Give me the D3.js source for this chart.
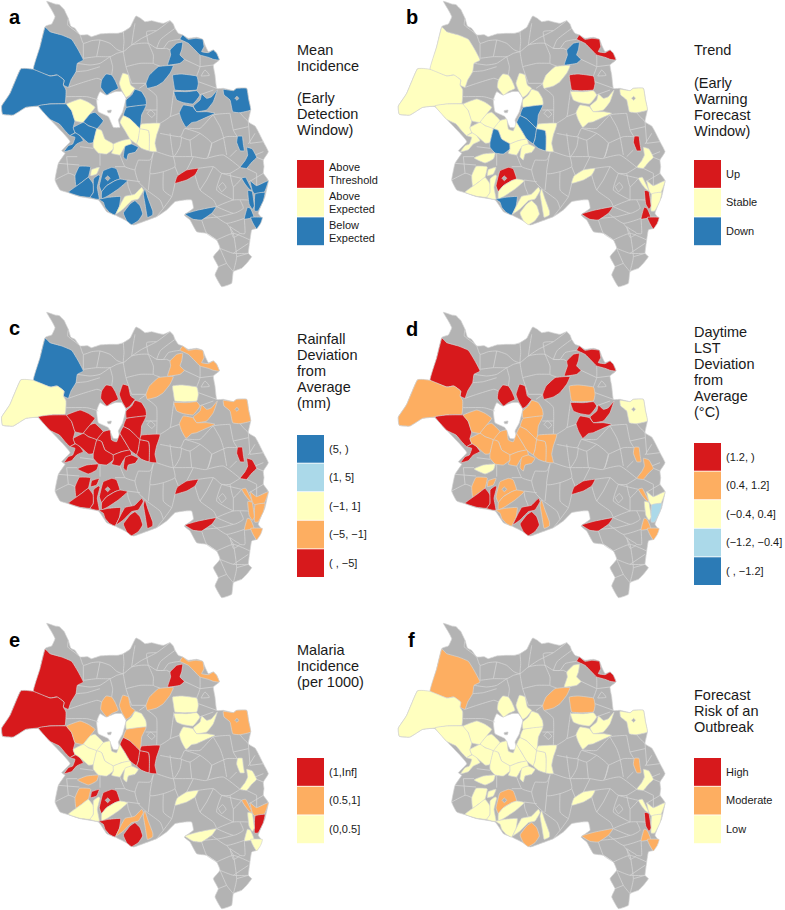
<!DOCTYPE html>
<html>
<head>
<meta charset="utf-8">
<script src="https://cdnjs.cloudflare.com/ajax/libs/d3/7.8.5/d3.min.js"></script>
<style>
  html, body { margin: 0; padding: 0; background: #fff; }
  text { font-family: "Liberation Sans", Arial, sans-serif; fill: #1a1a1a; }
  .region { stroke: #d4d4d4; stroke-width: 0.7; fill-rule: evenodd; stroke-linejoin: round; }
  .border { fill: none; stroke: #d4d4d4; stroke-width: 0.8; stroke-linejoin: round; }
</style>
</head>
<body>
<div id="chart"></div>
<script>
// Map geometry in map units (picture read at 3x), one outline, loose borders and the coloured districts
const outline = [[[140,4],[165,12],[178,14],[192,28],[205,55],[212,78],[225,85],[240,105],[262,104],[275,110],[300,102],[330,100],[352,100],[370,95],[390,82],[400,62],[408,48],[422,55],[435,65],[455,62],[470,66],[490,70],[510,62],[520,72],[525,85],[535,100],[548,105],[565,115],[590,112],[608,118],[615,135],[625,155],[640,150],[650,160],[658,180],[640,195],[645,225],[650,265],[670,265],[700,272],[710,265],[740,265],[746,298],[752,330],[745,365],[765,378],[775,395],[790,425],[805,455],[790,480],[792,500],[790,520],[805,542],[795,590],[785,612],[775,640],[785,655],[770,685],[755,690],[750,720],[745,760],[755,770],[740,790],[725,805],[700,815],[695,850],[665,860],[645,825],[655,800],[640,770],[660,745],[650,720],[620,700],[590,695],[570,660],[553,645],[580,625],[575,600],[555,600],[525,605],[500,630],[470,650],[430,665],[400,675],[375,660],[345,645],[320,635],[295,600],[240,590],[205,578],[180,570],[165,540],[175,490],[195,460],[185,452],[210,425],[190,400],[150,358],[115,320],[78,322],[40,345],[8,343],[5,318],[30,280],[62,207],[100,208],[120,140],[135,80],[155,72],[165,50],[155,30]],
  [[290,300],[300,275],[318,285],[345,275],[365,275],[378,295],[368,335],[355,360],[360,382],[340,382],[325,350],[295,335]],
  [[322,332],[334,330],[332,338],[324,338]]];

const borders = [
  [[205,55],[203,75],[222,90],[240,105],[250,130],[275,122],[300,120],[330,130],[350,148],[370,155],[395,135],[420,130],[445,130],[470,145],[500,145]],
  [[370,95],[372,125],[370,155],[378,200],[395,250]],
  [[250,175],[290,170],[330,170],[350,160],[370,155]],
  [[330,170],[338,200],[335,225]],
  [[232,190],[270,195],[300,190],[330,170]],
  [[395,135],[425,115],[470,92],[510,62]],
  [[405,70],[400,100],[395,135]],
  [[445,130],[460,165],[460,190],[480,198]],
  [[470,145],[482,118],[525,85]],
  [[205,262],[240,250],[290,235],[305,240]],
  [[228,215],[260,212],[300,200]],
  [[198,290],[260,290],[295,300]],
  [[440,250],[418,265]],
  [[442,265],[470,290],[470,370]],
  [[437,330],[470,330]],
  [[442,340],[452,330],[465,342],[455,352],[442,340]],
  [[522,270],[515,320],[510,350],[480,370]],
  [[538,340],[510,350]],
  [[480,400],[540,410],[555,385],[600,385],[640,345],[690,340]],
  [[470,455],[520,470],[540,440],[545,410]],
  [[520,470],[580,470],[620,475],[635,430],[600,400],[555,385]],
  [[690,340],[700,390],[712,410]],
  [[720,338],[730,350],[745,365]],
  [[635,430],[680,410],[712,410]],
  [[620,475],[670,465],[720,502]],
  [[595,505],[640,500],[665,520],[725,535]],
  [[585,525],[600,570],[640,600],[650,620]],
  [[525,550],[515,590],[490,625],[470,650]],
  [[460,458],[450,520],[490,515],[525,500],[520,470]],
  [[415,480],[405,510],[415,545],[440,570],[480,600],[490,625]],
  [[450,520],[445,570]],
  [[360,465],[375,500],[405,510]],
  [[300,460],[300,497]],
  [[240,440],[280,445]],
  [[200,470],[232,470]],
  [[175,490],[238,495]],
  [[345,500],[375,500]],
  [[382,540],[420,545]],
  [[610,655],[650,620],[700,600],[745,600]],
  [[605,660],[620,700],[650,720]],
  [[635,640],[680,670],[733,655]],
  [[650,720],[700,700],[750,720]],
  [[660,745],[700,760],[745,760]],
  [[700,815],[710,770],[700,700],[680,670]],
  [[665,520],[650,570],[700,600]],
  [[745,365],[750,430]],
  [[765,465],[790,455]],
  [[765,400],[745,432]],
  [[790,520],[748,545]],
  [[600,165],[600,200],[590,228]],
  [[640,195],[600,200]],
  [[603,228],[615,210],[628,226],[603,228]],
  [[553,178],[600,200]],
  [[595,245],[650,265]],
  [[598,285],[640,270]],
  [[518,195],[553,178]],
  [[655,560],[668,548],[678,562],[665,575],[655,560]],
  [[690,680],[705,690],[720,700],[700,712],[690,680]],
  [[445,130],[440,95],[470,92]],
  [[470,145],[490,145],[505,125],[525,120],[540,118]],
  [[500,145],[510,150]],
  [[378,200],[420,190],[460,190]],
  [[395,250],[440,250]],
  [[300,120],[290,170]],
  [[250,130],[250,175]],
  [[510,400],[515,440],[520,470]],
  [[570,420],[575,470]],
  [[600,400],[570,420],[540,410]],
  [[635,430],[625,470]],
  [[490,515],[490,570],[515,590]],
  [[525,500],[535,525]],
  [[560,510],[580,470]],
  [[640,345],[660,380],[670,410],[680,465]],
  [[700,390],[745,380]],
  [[710,450],[690,470]],
  [[620,540],[640,500]],
  [[620,540],[600,570]],
  [[665,520],[690,520],[720,502]],
  [[690,520],[700,560],[725,535]],
  [[700,560],[700,600]],
  [[720,600],[730,625],[700,640],[650,620]],
  [[610,655],[660,650],[700,640]],
  [[733,656],[735,700],[720,700]],
  [[165,540],[205,520],[225,527]],
  [[205,520],[200,470]],
  [[395,585],[385,560],[382,540]],
  [[415,480],[450,480],[460,458]],
  [[790,480],[770,472]],
  [[770,520],[740,505]],
  [[770,520],[770,557]],
  [[750,430],[790,425]],
  [[700,760],[745,730]],
  [[660,745],[680,790],[700,815]],
  [[655,800],[680,790]],
  [[710,770],[745,760]]
];

const districtIds = ["W1","W2","W3","W4","W5","W6","W7","M1","N1","N2","N3","N4","Y5","Y6","Y7","Y8","Y9","B10","T1","S1","S1b","S2","S3","S4","S5","S6","S7","S8","S9","C1","C2","E1","E2","E3","E4","E5","E6","E7","E8","F1","F2","F3","F4","F5","F6","F7","F8"];

const districtRings = [
  [[[135,82],[150,95],[185,105],[215,118],[235,150],[250,180],[232,190],[228,215],[213,240],[205,262],[190,255],[192,240],[170,225],[150,228],[100,208],[120,140]]],
  [[[62,207],[100,208],[150,228],[172,225],[192,240],[190,255],[198,270],[195,310],[150,312],[115,318],[78,322],[40,345],[8,343],[5,318],[30,280]]],
  [[[115,318],[150,312],[200,312],[215,332],[225,362],[220,382],[225,397],[210,407],[195,392],[178,372],[150,358]]],
  [[[192,455],[205,437],[218,432],[225,412],[210,407],[230,397],[240,407],[250,422],[230,432],[215,449]]],
  [[[200,312],[240,297],[265,307],[285,322],[270,342],[250,367],[225,362],[215,332]]],
  [[[270,342],[285,337],[310,362],[290,387],[265,377],[250,367]]],
  [[[220,382],[250,367],[265,377],[290,387],[280,427],[265,429],[240,407],[225,397]]],
  [[[310,362],[330,357],[335,387],[350,392],[360,367],[375,392],[390,417],[365,422],[340,432],[315,417],[305,392],[290,387]]],
  [[[318,222],[335,225],[345,240],[355,265],[335,275],[320,285],[302,262],[305,240]]],
  [[[368,220],[385,225],[392,255],[405,265],[390,285],[378,292],[365,270],[358,250]]],
  [[[380,322],[378,300],[395,285],[405,268],[425,275],[437,295],[438,315]]],
  [[[370,347],[380,322],[438,315],[425,345],[420,387],[390,357]]],
  [[[360,367],[370,347],[390,357],[420,387],[415,417],[410,432],[390,417],[375,392]]],
  [[[425,372],[480,370],[470,405],[465,430],[470,455],[447,452],[448,410],[445,392],[420,387]]],
  [[[420,387],[445,392],[448,410],[447,452],[425,445],[410,432],[415,417]]],
  [[[290,387],[305,392],[315,417],[340,432],[340,447],[320,462],[295,459],[280,442],[280,427]]],
  [[[340,432],[365,422],[390,417],[395,432],[372,445],[360,465],[335,460],[340,447]]],
  [[[375,439],[395,432],[415,442],[405,457],[385,462],[380,480],[370,470]]],
  [[[232,474],[260,462],[295,459],[290,477],[265,489]]],
  [[[238,499],[265,499],[272,502],[265,532],[245,547],[228,559],[225,527]]],
  [[[275,509],[298,502],[290,522],[272,527]]],
  [[[205,577],[228,559],[245,547],[265,532],[280,552],[280,577],[270,592],[240,589]]],
  [[[280,537],[295,525],[300,529],[292,562],[298,597],[285,597],[270,592],[280,577]]],
  [[[310,512],[335,502],[350,507],[360,537],[345,542],[320,557],[305,575],[298,557],[305,527]],[[316,535],[323,528],[330,535],[323,542]]],
  [[[360,537],[383,542],[355,567],[325,587],[305,597],[305,575],[320,557],[345,542]]],
  [[[297,598],[325,592],[345,590],[362,590],[358,620],[345,645],[328,637],[315,622],[310,607]]],
  [[[348,642],[362,612],[375,589],[395,585],[405,582],[425,562],[430,572],[415,597],[395,602],[370,627]]],
  [[[370,639],[390,612],[405,602],[420,617],[428,642],[415,662],[395,674],[380,662]]],
  [[[430,582],[435,567],[445,597],[458,632],[458,645],[442,652],[435,612]]],
  [[[525,550],[532,528],[560,510],[595,505],[585,525],[560,540]]],
  [[[555,642],[595,630],[648,620],[635,640],[605,660],[580,658]]],
  [[[530,130],[548,127],[545,150],[540,165],[553,178],[540,190],[503,195],[512,165],[510,150]]],
  [[[540,118],[548,105],[565,118],[585,115],[608,118],[612,140],[605,155],[625,158],[640,150],[650,160],[658,180],[640,178],[625,172],[600,165],[585,150],[565,130]]],
  [[[438,250],[448,225],[475,200],[500,197],[520,197],[510,220],[490,245],[470,258],[442,265]]],
  [[[518,225],[545,222],[590,228],[595,250],[590,270],[555,272],[525,270],[520,245]]],
  [[[522,275],[560,275],[590,272],[600,285],[590,300],[578,312],[550,308],[530,300]]],
  [[[605,282],[620,295],[635,290],[652,270],[640,305],[620,330],[590,335],[580,318],[600,300]]],
  [[[550,315],[578,320],[590,335],[620,335],[645,340],[612,355],[590,365],[575,368],[558,382],[545,360],[538,338]]],
  [[[670,268],[700,272],[710,265],[740,265],[746,298],[752,330],[720,338],[698,335],[690,300],[672,285]],[[705,295],[711,289],[716,295],[711,301]]],
  [[[713,409],[727,409],[730,432],[733,452],[720,452],[710,427]]],
  [[[740,442],[757,447],[770,472],[755,487],[740,505],[720,502],[735,482],[743,465]]],
  [[[725,535],[737,532],[750,557],[757,572],[747,567],[735,552]]],
  [[[750,542],[770,557],[805,542],[793,577],[765,582],[757,572]]],
  [[[765,582],[795,577],[790,602],[775,632],[763,632]]],
  [[[743,572],[757,575],[763,617],[757,628],[747,612]]],
  [[[742,622],[752,626],[762,652],[733,657]]],
  [[[752,652],[787,652],[782,670],[770,687],[760,672]]]
];

// Class of each district in each panel, same order as districtIds, null stays grey
const meanIncidence = ["B","B","B","B","Y","B","B",null,"B","Y","B","B","Y","Y","Y","Y","Y","B",null,"B","Y","B","B","B","B","B","Y","B","B","R","B","B","B","B","B","B","B","B","B","B","B","B","B","B","B","B","B"];
const trend = ["Y","Y","Y","Y","Y","Y","Y","Y","Y","Y","Y","B","B","Y","B","B","Y","Y","Y","Y","Y","Y","Y","R","Y","B","Y","Y","Y","Y","R","B","R","Y","R","Y","Y","Y","Y","R","Y","Y","Y","Y","R","R","R"];
const rainfall = ["B","Y","R","R","R","R","R","R","R","R","R","R","R","R","R","R","R","R","R","R","R","R","R","R","R","R","R","R","R","R","R","O","O","O","Y","O","O","O","O","R","R","O","O","O","O","O","O"];
const daytimeLst = ["R","O","R","R","O","O","O","O","R","R","O","O","O","O","O","O","O","O","Y","O","O","R","R","O","O","O","R","R","O","R","R","R","R","R","O","R","R","R","Y","O","O","O","Y","L","Y","O","O"];
const malaria = ["R","R","R","R","O","Y","Y","Y","O","O","Y","O","R","R","R","Y","Y","Y","O","O","R","Y","Y","R","Y","R","O","R","O","Y","Y","R","O","O","Y","Y","Y","Y","O","Y","Y","O","O","R","Y","Y","Y"];
const forecastRisk = ["O","Y","Y","Y","Y","Y","Y","Y","Y","Y","Y","Y","Y","Y","Y","Y","Y","Y","Y","Y","Y","Y","Y","O","Y","Y","Y","O","Y","Y","O","Y","R","O","O","Y","Y","Y","Y","O","Y","Y","Y","Y","R","O","O"];

// Legend text
const incidenceLabels = [["Above","Threshold"],["Above","Expected"],["Below","Expected"]];
const trendLabels = [["Up"],["Stable"],["Down"]];
const rainfallLabels = [["(5, )"],["(1, 5]"],["(−1, 1]"],["(−5, −1]"],["( , −5]"]];
const lstLabels = [["(1.2, )"],["(0.4, 1.2]"],["(−0.4, 0.4]"],["(−1.2, −0.4]"],["( , −1.2]"]];
const malariaLabels = [["(1,Inf]"],["(0.5,1]"],["(0,0.5]"]];
const riskLabels = [["High"],["Moderate"],["Low"]];

const classKeys = ["R","O","Y","L","B"];
const classColors = ["#d7191c","#fdae61","#ffffbf","#abd9e9","#2c7bb6"];
const color = d3.scaleOrdinal().domain(classKeys).range(classColors);
const greyFill = "#b3b3b3";

const width = 785, height = 910;
const svg = d3.select("#chart").append("svg")
    .attr("width", width)
    .attr("height", height)
    .style("display", "block");

// map units to pixels, the picture was read at 3x
const mapX = d3.scaleLinear().domain([0, 870]).range([0, 290]);
const mapY = d3.scaleLinear().domain([0, 900]).range([0, 300]);

// tight cardinal keeps the corners of the districts
const closedLine = d3.line().x(d => mapX(d[0])).y(d => mapY(d[1])).curve(d3.curveCardinalClosed.tension(0.65));
const openLine = d3.line().x(d => mapX(d[0])).y(d => mapY(d[1])).curve(d3.curveCardinal.tension(0.5));

function ringsPath(rings) {
    return rings.map(r => closedLine(r)).join(" ");
}

const districts = districtIds.map((id, i) => ({ id: id, index: i, rings: districtRings[i] }));

const panels = [
    { letter: "a", x: 9, y: 24, dx: 0, dy: 0, values: meanIncidence, legendX: 297, swatchTop: 160,
      title: [["Mean",55],["Incidence",71],["(Early",103],["Detection",119],["Window)",135]],
      keys: ["R","Y","B"], labels: incidenceLabels },
    { letter: "b", x: 406, y: 24, dx: 396.7, dy: 0, values: trend, legendX: 694, swatchTop: 160,
      title: [["Trend",55],["(Early",88],["Warning",104],["Forecast",120],["Window)",136]],
      keys: ["R","Y","B"], labels: trendLabels },
    { letter: "c", x: 9, y: 335, dx: 0, dy: 311, values: rainfall, legendX: 297, swatchTop: 435,
      title: [["Rainfall",344],["Deviation",360],["from",376],["Average",392],["(mm)",408]],
      keys: ["B","L","Y","O","R"], labels: rainfallLabels },
    { letter: "d", x: 406, y: 336, dx: 396.7, dy: 311, values: daytimeLst, legendX: 694, swatchTop: 443,
      title: [["Daytime",337],["LST",353],["Deviation",369],["from",385],["Average",401],["(°C)",417]],
      keys: ["R","O","Y","L","B"], labels: lstLabels },
    { letter: "e", x: 9, y: 647, dx: 0, dy: 622, values: malaria, legendX: 297, swatchTop: 758,
      title: [["Malaria",655],["Incidence",671],["(per 1000)",687]],
      keys: ["R","O","Y"], labels: malariaLabels },
    { letter: "f", x: 408, y: 647, dx: 396.7, dy: 622, values: forecastRisk, legendX: 694, swatchTop: 758,
      title: [["Forecast",700],["Risk of an",716],["Outbreak",732]],
      keys: ["R","O","Y"], labels: riskLabels }
];

const swatchW = 27, swatchStep = 28.4;

panels.forEach(p => {
    // Map
    const map = svg.append("g").attr("transform", `translate(${p.dx},${p.dy})`);
    map.append("path")
        .attr("class", "region")
        .attr("fill", greyFill)
        .attr("d", ringsPath(outline));
    map.selectAll("path.border")
        .data(borders)
        .enter().append("path")
        .attr("class", "border")
        .attr("d", d => openLine(d));
    map.selectAll("path.district")
        .data(districts.filter(f => p.values[f.index] !== null))
        .enter().append("path")
        .attr("class", "region district")
        .attr("fill", f => color(p.values[f.index]))
        .attr("d", f => ringsPath(f.rings));

    // Panel letter
    svg.append("text")
        .attr("x", p.x)
        .attr("y", p.y)
        .attr("font-size", 20)
        .attr("font-weight", "bold")
        .style("fill", "#000")
        .text(p.letter);

    // Legend title
    svg.selectAll(null)
        .data(p.title)
        .enter().append("text")
        .attr("x", p.legendX)
        .attr("y", d => d[1])
        .attr("font-size", 14.5)
        .text(d => d[0]);

    // Legend swatches
    const yScale = d3.scaleBand()
        .domain(p.keys)
        .range([p.swatchTop, p.swatchTop + p.keys.length * swatchStep])
        .paddingInner(0.03)
        .paddingOuter(0);
    const legend = svg.append("g");
    legend.selectAll("rect")
        .data(p.keys)
        .enter().append("rect")
        .attr("x", p.legendX)
        .attr("y", d => yScale(d))
        .attr("width", swatchW)
        .attr("height", yScale.bandwidth())
        .attr("fill", d => color(d));

    p.keys.forEach((k, i) => {
        const lines = p.labels[i];
        const mid = yScale(k) + yScale.bandwidth() / 2;
        lines.forEach((line, j) => {
            legend.append("text")
                .attr("x", p.legendX + swatchW + 5)
                .attr("y", mid + 3.8 + (j - (lines.length - 1) / 2) * 13)
                .attr("font-size", 11)
                .text(line);
        });
    });
});
</script>
</body>
</html>
